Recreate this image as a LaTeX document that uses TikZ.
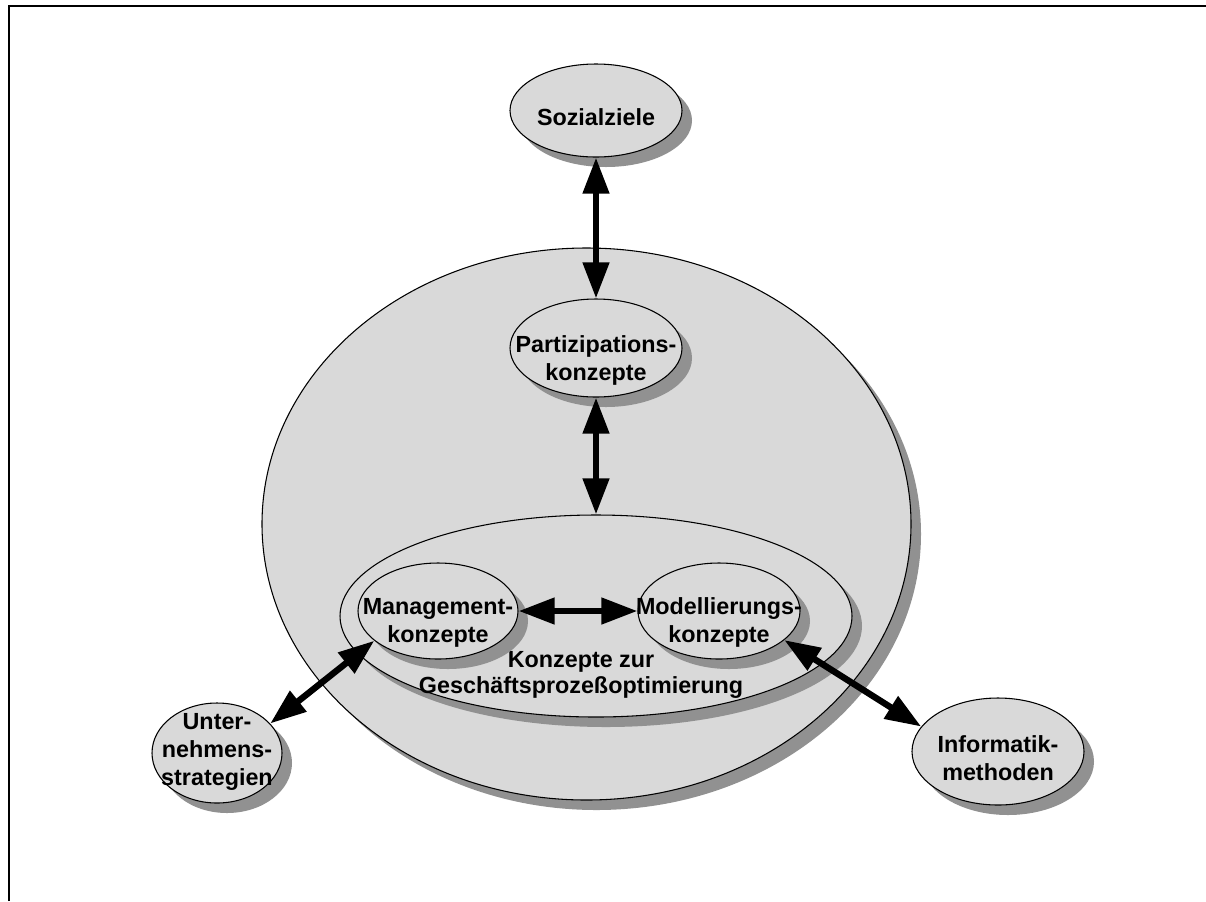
\documentclass[tikz,border=0pt]{standalone}
\usepackage{fontspec}
\setmainfont{Liberation Sans}
\usetikzlibrary{shapes.geometric}
\usetikzlibrary{shadows}
\usetikzlibrary{arrows.meta}

\definecolor{bubblegray}{RGB}{217,217,217}
\definecolor{shadowgray}{RGB}{145,145,145}

\newcommand{\btxt}[2][-13pt]{\smash{\raisebox{#1}{\makebox[0pt]{\begin{tabular}{@{}c@{}}#2\end{tabular}}}}}

\tikzset{
    bubble/.style={ellipse, draw, line width=0.8pt, fill=bubblegray, inner sep=0pt,
        font=\fontsize{17.5}{21}\selectfont\bfseries,
        drop shadow={shadow xshift=7.5pt, shadow yshift=-7.5pt, fill=shadowgray, opacity=1}},
    caption/.style={align=center, inner sep=0pt, font=\fontsize{17.5}{20}\selectfont\bfseries},
    biarrow/.style={line width=4.8pt, {Triangle[length=27pt,width=19pt]}-{Triangle[length=27pt,width=19pt]}},
    frameline/.style={line width=1.5pt}
}

\begin{document}
\begin{tikzpicture}[x=0.75pt,y=-0.75pt]

            %\draw [help lines] (0,0) grid (1206,901);
            \useasboundingbox (0,0) rectangle (1206,901);
            \draw [frameline] (9,901) -- (9,6) -- (1206,6);

            \path   (586.5,524) node (outer) [bubble, minimum width=486.75pt, minimum height=414pt] {}
                    (596,616) node (gpo) [bubble, minimum width=384pt, minimum height=151.5pt] {}
                    (581,675) node (gpotext) [caption] {Konzepte zur\\Geschäftsprozeßoptimierung}
                    (596,348) node (part) [bubble, minimum width=129pt, minimum height=73.5pt] {\btxt[-14pt]{Partizipations-\\konzepte}}
                    (438,611) node (mgmt) [bubble, minimum width=120pt, minimum height=72pt] {\btxt{Management-\\konzepte}}
                    (719,611) node (mod) [bubble, minimum width=121.5pt, minimum height=72pt] {\btxt{Modellierungs-\\konzepte}}
                    (596,110.5) node (soz) [bubble, minimum width=129pt, minimum height=69.75pt] {\btxt[-11.5pt]{Sozialziele}}
                    (217,753) node (unter) [bubble, minimum width=97.5pt, minimum height=75pt] {\btxt[-3.75pt]{Unter-\\nehmens-\\strategien}}
                    (998,751.5) node (info) [bubble, minimum width=129pt, minimum height=80.25pt] {\btxt[-11.5pt]{Informatik-\\methoden}};

            \draw [biarrow] (soz) -- (part);
            \draw [biarrow] (part) -- (gpo);
            \draw [biarrow] (mgmt) -- (mod);
            \draw [biarrow] (mgmt.205) -- (unter.29);
            \draw [biarrow] (mod.336) -- (info.162);

        \end{tikzpicture}
\end{document}
